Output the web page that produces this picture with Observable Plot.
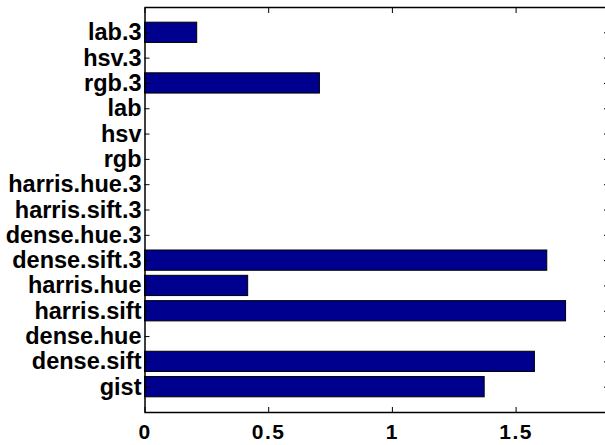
<!DOCTYPE html>
<html><head><meta charset="utf-8">
<script src="https://cdn.jsdelivr.net/npm/d3@7"></script>
<script src="https://cdn.jsdelivr.net/npm/@observablehq/plot@0.6"></script>
<style>
html,body{margin:0;padding:0;background:#fff;overflow:hidden;}
#chart svg{max-width:none !important;display:block;}
</style></head><body><div id="chart"></div>
<script>
const categories = ["gist","dense.sift","dense.hue","harris.sift","harris.hue","dense.sift.3","dense.hue.3","harris.sift.3","harris.hue.3","rgb","hsv","lab","rgb.3","hsv.3","lab.3"];
const values = [1.373,1.576,0,1.702,0.417,1.626,0,0,0,0,0,0,0.707,0,0.211];
const xTicks = [0,0.5,1,1.5];
const xMax = 1.8735;

const data = categories.map((c,i)=>({category:c, value: values[i]}));
const order = categories.slice().reverse();
const fmt = d => String(d);

const chart = Plot.plot({
  width: 612, height: 445,
  marginLeft: 144.5, marginRight: 4, marginTop: 7, marginBottom: 33,
  x: {domain: [0, xMax]},
  y: {domain: order, paddingInner: 0.2, paddingOuter: 0.6, round: false},
  style: {fontFamily: "'Liberation Sans', Arial, Helvetica, sans-serif", fontWeight: "bold", color: "#000", background: "#fff"},
  marks: [
    Plot.barX(data, {x: "value", y: "category", fill: "#00008f", stroke: "#000", strokeWidth: 1}),
    Plot.axisY({tickSize: 0, tickPadding: 3.5, fontSize: 23.5, label: null}),
    Plot.axisY({tickSize: 5, dx: 5, tickFormat: () => "", label: null}),
    Plot.axisY({anchor: "right", tickSize: 5, dx: -5, tickFormat: () => "", label: null}),
    Plot.axisX({ticks: xTicks, tickSize: 0, tickPadding: 12, fontSize: 21, tickFormat: fmt, label: null}),
    Plot.axisX({ticks: xTicks, tickSize: 5, dy: -5, tickFormat: () => "", label: null}),
    Plot.axisX({anchor: "top", ticks: xTicks, tickSize: 5, dy: 5, tickFormat: () => "", label: null}),
    Plot.frame({stroke: "#000", strokeWidth: 1.5})
  ]
});
document.getElementById("chart").appendChild(chart);
d3.select(chart).selectAll('g[aria-label="x-axis tick label"] text').style("letter-spacing", "1.5px");
</script></body></html>
